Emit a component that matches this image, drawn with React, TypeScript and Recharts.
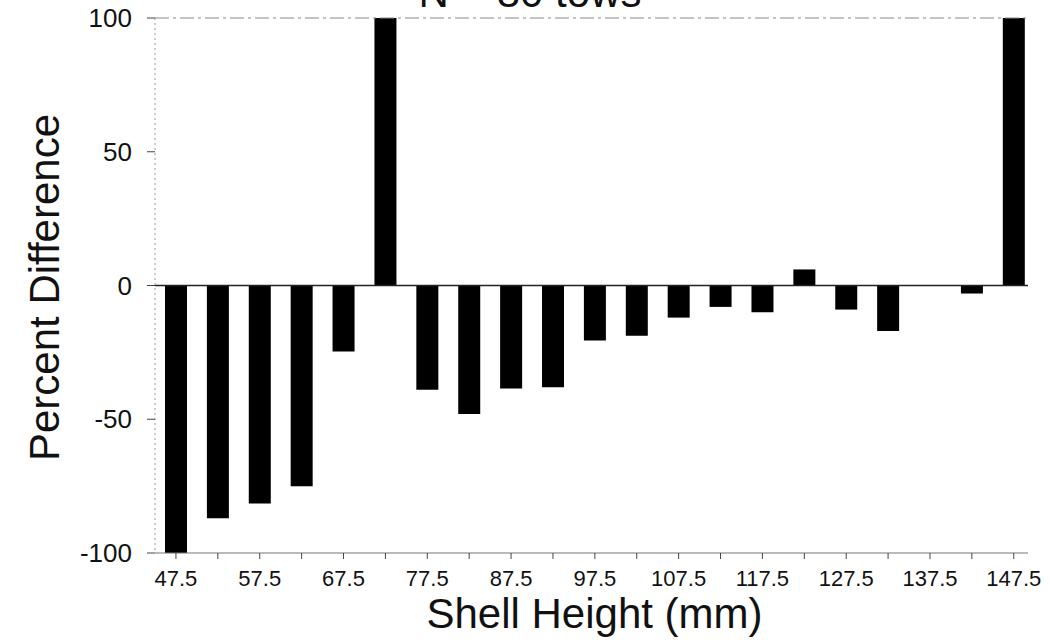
import React from 'react';
import { BarChart, Bar, XAxis, YAxis, ReferenceLine, Label } from 'recharts';

const shellHeights = [47.5, 52.5, 57.5, 62.5, 67.5, 72.5, 77.5, 82.5, 87.5, 92.5, 97.5, 102.5, 107.5, 112.5, 117.5, 122.5, 127.5, 132.5, 137.5, 142.5, 147.5];
const percentDifference = [-100, -87, -81.5, -75, -24.7, 100, -39, -48, -38.5, -38, -20.6, -18.8, -12, -8, -10, 6, -9, -17, 0, -3, 100];
const labeledTicks = [47.5, 57.5, 67.5, 77.5, 87.5, 97.5, 107.5, 117.5, 127.5, 137.5, 147.5];
const yTicks = [-100, -50, 0, 50, 100];

const data = shellHeights.map((h, i) => ({ height: h, diff: percentDifference[i] }));

const FONT = '"Liberation Sans", Arial, Helvetica, sans-serif';

export default function App() {
  return (
    <div style={{ position: 'absolute', left: 0, top: 0, width: 1051, height: 642, background: '#fff', fontFamily: FONT }}>
      <BarChart width={1051} height={642} data={data} margin={{ top: 18, right: 23, bottom: 0, left: 0 }} barSize={22}>
        <XAxis
          dataKey="height"
          type="number"
          domain={[45, 149.2]}
          allowDataOverflow
          ticks={shellHeights}
          interval={0}
          tickFormatter={(v: number) => (labeledTicks.includes(v) ? v.toFixed(1) : '')}
          height={89}
          axisLine={{ stroke: '#777', strokeWidth: 1.2 }}
          tickLine={{ stroke: '#444' }}
          tickSize={6}
          tickMargin={11}
          tick={{ fill: '#111', fontSize: 22, fontFamily: FONT }}
        >
          <Label
            content={(props: any) => {
              const vb = props.viewBox || { x: 155, y: 553, width: 873 };
              return (
                <text x={vb.x + vb.width / 2 + 3} y={vb.y + 75} textAnchor="middle" fontSize={42} fill="#111" fontFamily={FONT}>
                  Shell Height (mm)
                </text>
              );
            }}
          />
        </XAxis>
        <YAxis
          type="number"
          domain={[-100, 100]}
          allowDataOverflow
          ticks={yTicks}
          interval={0}
          width={155}
          axisLine={{ stroke: '#999', strokeDasharray: '2 3' }}
          tickLine={{ stroke: '#444' }}
          tickSize={8}
          tickMargin={15}
          tick={{ fill: '#111', fontSize: 26, fontFamily: FONT }}
        >
          <Label
            content={(props: any) => {
              const vb = props.viewBox || { x: 0, y: 18, width: 155, height: 535 };
              const cx = 59;
              const cy = vb.y + vb.height / 2 + 2;
              const titleX = vb.x + vb.width + 375;
              return (
                <g>
                  <text
                    x={cx}
                    y={cy}
                    transform={`rotate(-90, ${cx}, ${cy})`}
                    textAnchor="middle"
                    fontSize={42}
                    fill="#111"
                    fontFamily={FONT}
                  >
                    Percent Difference
                  </text>
                  <text x={titleX} y={vb.y - 11} textAnchor="middle" fontSize={42} fill="#111" fontFamily={FONT}>
                    N = 80 tows
                  </text>
                </g>
              );
            }}
          />
        </YAxis>
        <YAxis
          yAxisId="right"
          orientation="right"
          type="number"
          domain={[-100, 100]}
          width={0}
          tick={false}
          tickLine={false}
          axisLine={{ stroke: '#555', strokeWidth: 1.2 }}
        />
        <ReferenceLine y={100} stroke="#888" strokeDasharray="14 4 3 4" />
        <ReferenceLine y={0} stroke="#222" strokeWidth={1.5} />
        <Bar dataKey="diff" fill="#000" isAnimationActive={false} />
      </BarChart>
    </div>
  );
}
